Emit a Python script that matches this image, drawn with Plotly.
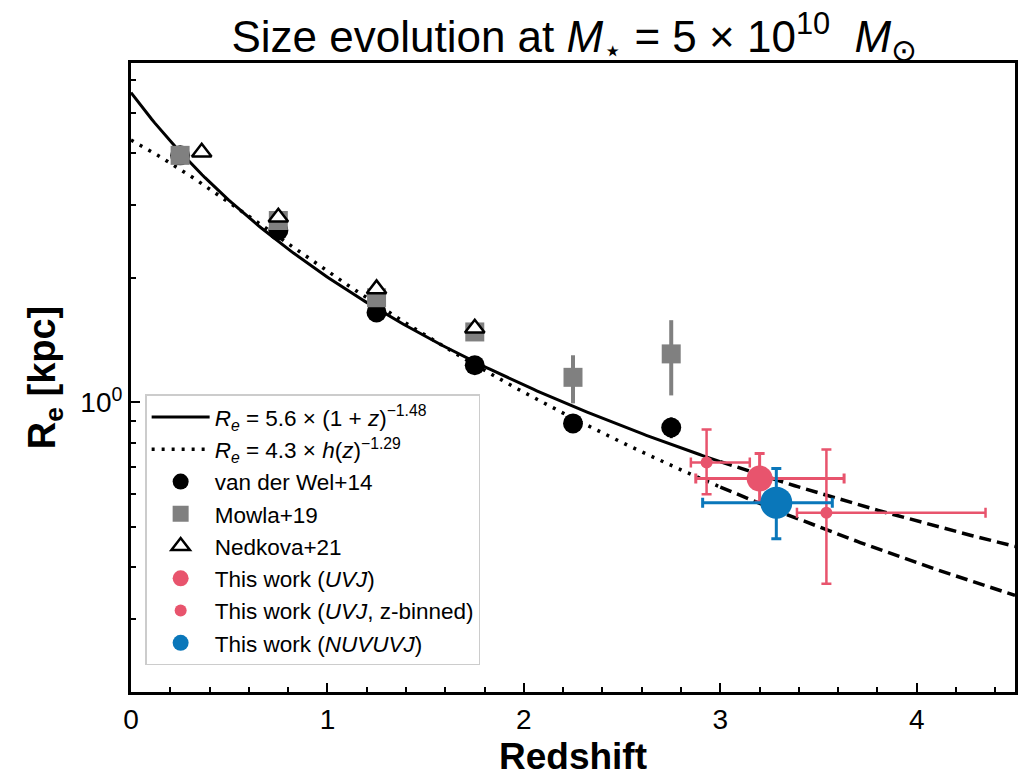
import numpy as np
import plotly.graph_objects as go

# ---- fit parameters (from legend) ----
FIT1_NORM, FIT1_SLOPE = 5.6, -1.48      # Re = 5.6 (1+z)^-1.48
FIT2_NORM, FIT2_SLOPE = 4.3, -1.29      # Re = 4.3 h(z)^-1.29
OMEGA_M, OMEGA_L = 0.3, 0.7
Z_FIT_MAX, Z_EXTRAP_MAX = 3.0, 4.5

# ---- literature data ----
vdw_z = [0.25, 0.75, 1.25, 1.75, 2.25, 2.75]
vdw_re = [3.95, 2.60, 1.65, 1.23, 0.89, 0.87]
vdw_err = [0.03, 0.04, 0.03, 0.03, 0.03, 0.05]

mowla_z = [0.25, 0.75, 1.25, 1.75, 2.25, 2.75]
mowla_re = [3.95, 2.75, 1.79, 1.48, 1.15, 1.31]
mowla_err_up = [0.05, 0.04, 0.03, 0.03, 0.15, 0.27]
mowla_err_lo = [0.05, 0.04, 0.03, 0.03, 0.155, 0.27]

nedkova_z = [0.36, 0.75, 1.25, 1.75]
nedkova_re = [4.02, 2.80, 1.88, 1.51]

# ---- this work ----
uvj_z, uvj_re = [3.20], [0.655]
uvj_zlo, uvj_zhi = [0.325], [0.43]
uvj_relo, uvj_rehi = [0.08], [0.098]

bin_z = [2.93, 3.54]
bin_re = [0.716, 0.542]
bin_zlo = [0.08, 0.15]
bin_zhi = [0.22, 0.81]
bin_relo = [0.116, 0.177]
bin_rehi = [0.144, 0.228]

nuv_z, nuv_re = [3.285], [0.573]
nuv_zlo, nuv_zhi = [0.375], [0.285]
nuv_relo, nuv_rehi = [0.104], [0.12]

PINK = "#E8546D"
BLUE = "#0A77BA"
GRAY = "#808080"


def fit1(z):
    return FIT1_NORM * (1 + z) ** FIT1_SLOPE


def fit2(z):
    hz = np.sqrt(OMEGA_M * (1 + z) ** 3 + OMEGA_L)
    return FIT2_NORM * hz ** FIT2_SLOPE


z_in = np.linspace(0, Z_FIT_MAX, 200)
z_out = np.linspace(Z_FIT_MAX, Z_EXTRAP_MAX, 100)

fig = go.Figure()

fig.add_trace(go.Scatter(x=z_in, y=fit1(z_in), mode="lines",
                         line=dict(color="black", width=3),
                         name="<i>R<sub>e</sub></i> = 5.6 × (1 + <i>z</i>)<sup>−1.48</sup>"))
fig.add_trace(go.Scatter(x=z_in, y=fit2(z_in), mode="lines",
                         line=dict(color="black", width=3.5, dash="3px,7px"),
                         name="<i>R<sub>e</sub></i> = 4.3 × <i>h</i>(<i>z</i>)<sup>−1.29</sup>"))
fig.add_trace(go.Scatter(x=z_out, y=fit1(z_out), mode="lines", showlegend=False,
                         line=dict(color="black", width=3.5, dash="12px,6px")))
fig.add_trace(go.Scatter(x=z_out, y=fit2(z_out), mode="lines", showlegend=False,
                         line=dict(color="black", width=3.5, dash="12px,6px")))

fig.add_trace(go.Scatter(x=vdw_z, y=vdw_re, mode="markers", name="van der Wel+14",
                         marker=dict(color="black", size=20, symbol="circle"),
                         error_y=dict(type="data", array=vdw_err, color="black",
                                      thickness=3, width=0)))
fig.add_trace(go.Scatter(x=mowla_z, y=mowla_re, mode="markers", name="Mowla+19",
                         marker=dict(color=GRAY, size=19, symbol="square"),
                         error_y=dict(type="data", array=mowla_err_up, arrayminus=mowla_err_lo,
                                      color=GRAY, thickness=4, width=0)))
fig.add_trace(go.Scatter(x=nedkova_z, y=nedkova_re, mode="markers", name="Nedkova+21",
                         marker=dict(color="white", size=17, symbol="triangle-up",
                                     line=dict(color="black", width=2.5))))

fig.add_trace(go.Scatter(x=uvj_z, y=uvj_re, mode="markers", name="This work (<i>UVJ</i>)",
                         marker=dict(color=PINK, size=26),
                         error_x=dict(type="data", array=uvj_zhi, arrayminus=uvj_zlo,
                                      color=PINK, thickness=3, width=5),
                         error_y=dict(type="data", array=uvj_rehi, arrayminus=uvj_relo,
                                      color=PINK, thickness=3, width=5)))
fig.add_trace(go.Scatter(x=bin_z, y=bin_re, mode="markers",
                         name="This work (<i>UVJ</i>, z-binned)",
                         marker=dict(color=PINK, size=12),
                         error_x=dict(type="data", array=bin_zhi, arrayminus=bin_zlo,
                                      color=PINK, thickness=2.5, width=5),
                         error_y=dict(type="data", array=bin_rehi, arrayminus=bin_relo,
                                      color=PINK, thickness=2.5, width=5)))
fig.add_trace(go.Scatter(x=nuv_z, y=nuv_re, mode="markers", name="This work (<i>NUVUVJ</i>)",
                         marker=dict(color=BLUE, size=32),
                         error_x=dict(type="data", array=nuv_zhi, arrayminus=nuv_zlo,
                                      color=BLUE, thickness=3, width=5),
                         error_y=dict(type="data", array=nuv_rehi, arrayminus=nuv_relo,
                                      color=BLUE, thickness=3, width=5)))

FONT = "Liberation Sans, Arial, Helvetica, sans-serif"

fig.update_layout(
    width=1022, height=783,
    margin=dict(l=131, r=4, t=63, b=91),
    paper_bgcolor="white", plot_bgcolor="white",
    font=dict(family=FONT, color="black"),
    title=dict(text="Size evolution at <i>M</i><sub>⋆</sub> = 5 × 10<sup>10</sup>  <i>M</i><sub>⊙</sub>",
               x=0.562, xanchor="center", y=0.953, yanchor="middle",
               font=dict(size=44, family=FONT)),
    showlegend=True,
    legend=dict(x=0.016, y=0.473, xanchor="left", yanchor="top",
                bgcolor="rgba(255,255,255,0.8)", bordercolor="#cccccc", borderwidth=1.5,
                font=dict(size=22.5, family=FONT), itemwidth=58,
                tracegroupgap=2),
)

fig.update_xaxes(
    range=[0, 4.5], tickmode="linear", tick0=0, dtick=1,
    ticks="inside", ticklen=9, tickwidth=2, tickcolor="black",
    minor=dict(ticks="inside", ticklen=5, tickwidth=1.5, tickcolor="black", dtick=0.2, tick0=0),
    showline=True, linewidth=3, linecolor="black", mirror=True,
    showgrid=False, zeroline=False,
    tickfont=dict(size=28, family=FONT),
    title=dict(text="<b>Redshift</b>", font=dict(size=37, family=FONT), standoff=10),
)

fig.update_yaxes(
    type="log", range=[np.log10(0.2), np.log10(6.6)],
    tickmode="array", tickvals=[1], ticktext=["10<sup>0</sup>"],
    ticks="inside", ticklen=9, tickwidth=2, tickcolor="black",
    minor=dict(ticks="inside", ticklen=5, tickwidth=1.5, tickcolor="black",
               tickmode="array", tickvals=[0.2, 0.3, 0.4, 0.5, 0.6, 0.7, 0.8, 0.9, 2, 3, 4, 5, 6]),
    showline=True, linewidth=3, linecolor="black", mirror=True,
    showgrid=False, zeroline=False,
    tickfont=dict(size=28, family=FONT),
    title=dict(text="<b>R<sub>e</sub> [kpc]</b>", font=dict(size=38, family=FONT), standoff=14),
)

fig.write_html("out.html")
